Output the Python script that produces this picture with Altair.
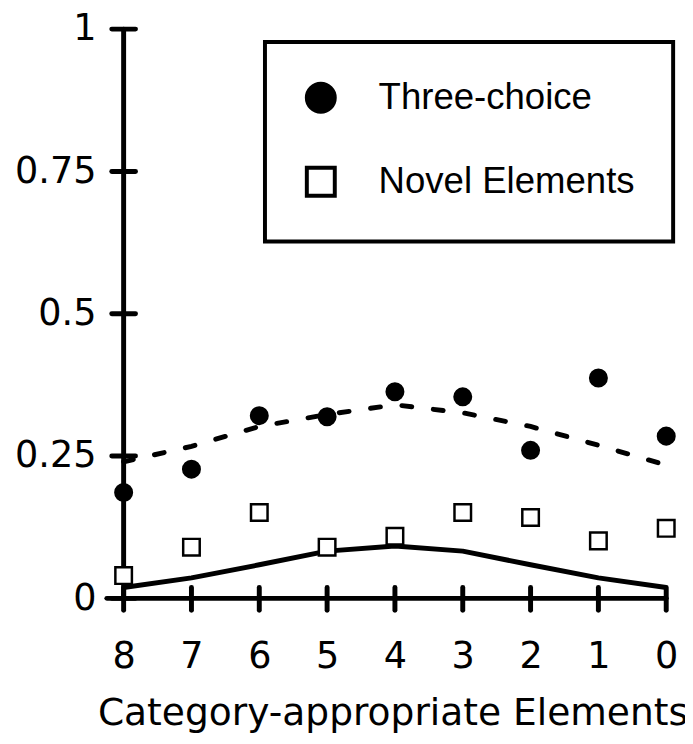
import altair as alt
import pandas as pd

cats = [8, 7, 6, 5, 4, 3, 2, 1, 0]
three_choice = [0.186, 0.227, 0.321, 0.319, 0.363, 0.354, 0.260, 0.387, 0.285]
novel = [0.040, 0.090, 0.151, 0.090, 0.109, 0.151, 0.142, 0.101, 0.123]
model_three = [0.240, 0.267, 0.302, 0.323, 0.340, 0.326, 0.302, 0.269, 0.234]
model_novel = [0.019, 0.036, 0.059, 0.083, 0.092, 0.083, 0.059, 0.036, 0.019]
series_names = ["Three-choice", "Novel Elements"]
y_ticks = [0, 0.25, 0.5, 0.75, 1]

pts = pd.DataFrame({
    "cat": cats * 2,
    "value": three_choice + novel,
    "series": [series_names[0]] * len(cats) + [series_names[1]] * len(cats),
})
lines = pd.DataFrame({
    "cat": cats * 2,
    "value": model_three + model_novel,
    "series": [series_names[0]] * len(cats) + [series_names[1]] * len(cats),
})
ytick_df = pd.DataFrame({"t": y_ticks})
xtick_df = pd.DataFrame({"c": cats})
one = pd.DataFrame({"a": [0]})

W, H = 549, 576
FONT = "DejaVu Sans"

xscale = alt.Scale(domain=[8, 0], nice=False, zero=False)
yscale = alt.Scale(domain=[0, 1], nice=False)

xaxis = alt.Axis(values=cats, format="d", domain=False, ticks=False, grid=False,
                 labelFont=FONT, labelFontSize=37, labelColor="black", labelPadding=41,
                 labelFlush=False,
                 title="Category-appropriate Elements", titleFont=FONT, titleFontSize=38,
                 titleFontWeight="normal", titleColor="black", titleBaseline="alphabetic",
                 titleY=128, titleX=272, titleAlign="center")
yaxis = alt.Axis(values=y_ticks, format="~g", domain=False, ticks=False, grid=False,
                 labelFont=FONT, labelFontSize=37, labelColor="black", labelPadding=28,
                 labelFlush=False, title=None)

line_three = alt.Chart(lines).transform_filter(
    alt.datum.series == series_names[0]
).mark_line(color="black", strokeWidth=5, strokeDash=[10, 22], strokeCap="round").encode(
    x=alt.X("cat:Q", scale=xscale, axis=xaxis),
    y=alt.Y("value:Q", scale=yscale, axis=yaxis),
)
line_novel = alt.Chart(lines).transform_filter(
    alt.datum.series == series_names[1]
).mark_line(color="black", strokeWidth=5, strokeJoin="round").encode(
    x=alt.X("cat:Q", scale=xscale),
    y=alt.Y("value:Q", scale=yscale),
)

yaxis_line = alt.Chart(one).mark_rule(color="black", strokeWidth=5, strokeCap="round").encode(
    x=alt.value(0), y=alt.value(0), y2=alt.value(H)
)
xaxis_line = alt.Chart(one).mark_rule(color="black", strokeWidth=5, strokeCap="round").encode(
    y=alt.value(H), x=alt.value(-17), x2=alt.value(W)
)
yticks = alt.Chart(ytick_df).mark_rule(color="black", strokeWidth=5, strokeCap="round").encode(
    y=alt.Y("t:Q", scale=yscale), x=alt.value(-12), x2=alt.value(12)
)
xticks = alt.Chart(xtick_df).mark_rule(color="black", strokeWidth=5, strokeCap="round").encode(
    x=alt.X("c:Q", scale=xscale), y=alt.value(H - 11), y2=alt.value(H + 12)
)

leg = alt.Legend(title=None)
points = alt.Chart(pts).mark_point(filled=False, strokeWidth=2.5, opacity=1,
                                   size=280).encode(
    x=alt.X("cat:Q", scale=xscale),
    y=alt.Y("value:Q", scale=yscale),
    shape=alt.Shape("series:N", scale=alt.Scale(domain=series_names, range=["circle", "square"]),
                    legend=leg),
    fill=alt.Fill("series:N", scale=alt.Scale(domain=series_names, range=["black", "white"]),
                  legend=leg),
    stroke=alt.Stroke("series:N", scale=alt.Scale(domain=series_names, range=["black", "black"]),
                      legend=leg),
)

chart = alt.layer(
    line_three, line_novel, yaxis_line, xaxis_line, yticks, xticks, points
).properties(
    width=W, height=H,
    autosize=alt.AutoSizeParams(type="none"),
    padding={"left": 117, "top": 17, "right": 19, "bottom": 143},
).configure_view(stroke=None).configure_legend(
    orient="none", legendX=143, legendY=13,
    strokeColor="black", strokeWidth=4, fillColor="white",
    padding=38, rowPadding=40,
    symbolSize=800, symbolStrokeWidth=4, symbolStrokeColor="black",
    labelFont="Liberation Sans", labelFontSize=37, labelColor="black",
    labelOffset=40, labelLimit=400,
)

chart.save("out.html", embed_options={"renderer": "svg", "actions": False})
